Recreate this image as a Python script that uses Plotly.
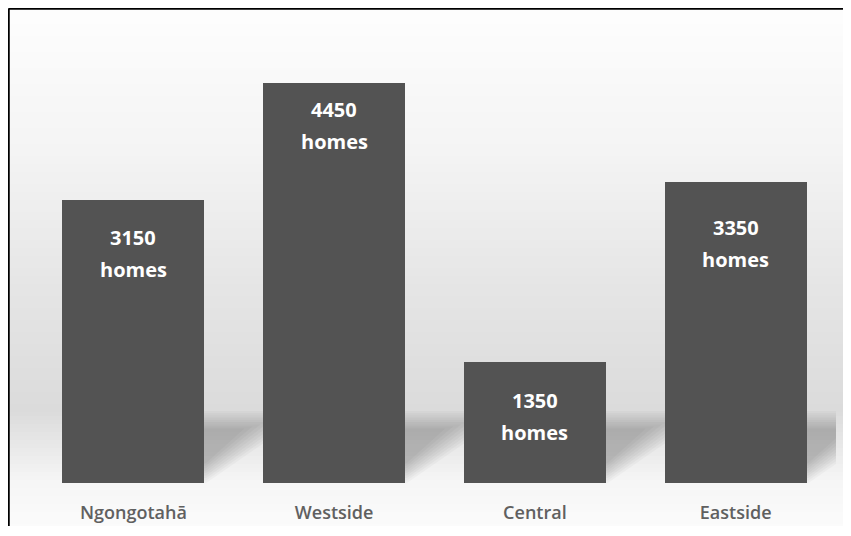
import plotly.graph_objects as go

# ---- data ----
categories = ["Ngongotahā", "Westside", "Central", "Eastside"]
homes = [3150, 4450, 1350, 3350]
unit_word = "homes"

# ---- style ----
OFF = 8                      # page body margin of the browser (screen px offset)
W, H = 851 - 2 * OFF, 518
M_L, M_R, M_T = 25, 7, 0
M_B = H - 475
PLOT_H = H - M_T - M_B
PLOT_W = W - M_L - M_R
PX_PER_UNIT = 0.09
Y_MAX = PLOT_H / PX_PER_UNIT
BAR_W = 0.707
BAR_COLOR = "#535353"
label_offsets = [38, 27, 39, 46]   # px below bar top for the number line
line_gap = 30

fig = go.Figure()
fig.add_trace(go.Bar(
    x=categories, y=homes, width=BAR_W,
    marker=dict(color=BAR_COLOR, line=dict(width=0)),
    hoverinfo="skip",
))

shapes = []
AXIS_SCREEN = H - M_B + OFF   # screen y of the plot bottom


def sy(py):   # screen y -> paper y
    return (AXIS_SCREEN - py) / PLOT_H


def sx(px):   # screen x -> paper x
    return (px - OFF - M_L) / PLOT_W


stops = [(0, (254, 254, 254)), (150, (244, 244, 244)), (300, (228, 228, 228)),
         (410, (219, 219, 219)), (483, (246, 246, 246)), (536, (252, 252, 252))]


def col_at(py):
    for (p0, c0), (p1, c1) in zip(stops, stops[1:]):
        if p0 <= py <= p1:
            t = (py - p0) / (p1 - p0)
            return tuple(round(a + (b - a) * t) for a, b in zip(c0, c1))
    return stops[-1][1]


step = 4
for py in range(0, 540, step):
    c = col_at(py + step / 2)
    shapes.append(dict(type="rect", xref="paper", yref="paper",
                       x0=sx(0), x1=sx(860), y0=sy(py + step), y1=sy(py),
                       fillcolor=f"rgb{c}", line=dict(width=0), layer="below"))

# bar shadows (to the right of each bar, at the floor), layered for softness
px_per_cat = PLOT_W / len(categories)
for i, v in enumerate(homes):
    xr = i + BAR_W / 2
    for k in range(9):
        top_px = 72 - k * 2.2
        d = top_px / 0.68 - k * 5
        top_u = top_px / PX_PER_UNIT
        pts = [(i, top_u), (xr + d / px_per_cat, top_u),
               (xr + 2 / px_per_cat, k * 2.5 / PX_PER_UNIT), (i, 0)]
        path = "M " + " L ".join(f"{x},{y}" for x, y in pts) + " Z"
        shapes.append(dict(type="path", xref="x", yref="y", path=path,
                           fillcolor="rgba(0,0,0,0.026)", line=dict(width=0), layer="below"))

# frame lines (left and top)
bx = sx(OFF + 0.5)
by = sy(OFF + 0.5)
shapes.append(dict(type="line", xref="paper", yref="paper", x0=bx, x1=sx(860), y0=by, y1=by,
                   line=dict(color="black", width=2.5)))
shapes.append(dict(type="line", xref="paper", yref="paper", x0=bx, x1=bx, y0=by, y1=sy(545),
                   line=dict(color="black", width=2.5)))

annotations = []
for i, (c, v) in enumerate(zip(categories, homes)):
    annotations.append(dict(x=c, y=v, xref="x", yref="y", text=f"<b>{v}</b>", showarrow=False,
                            yanchor="middle", yshift=-label_offsets[i],
                            font=dict(family="Open Sans", size=20, color="white")))
    annotations.append(dict(x=c, y=v, xref="x", yref="y", text=f"<b>{unit_word}</b>", showarrow=False,
                            yanchor="middle", yshift=-(label_offsets[i] + line_gap) - 2,
                            font=dict(family="Open Sans", size=20, color="white")))

fig.update_layout(
    width=W, height=H,
    margin=dict(l=M_L, r=M_R, t=M_T, b=M_B, pad=0, autoexpand=False),
    paper_bgcolor="rgb(250,250,250)", plot_bgcolor="rgba(0,0,0,0)",
    showlegend=False, bargap=0,
    shapes=shapes, annotations=annotations,
    xaxis=dict(range=[-0.5, len(categories) - 0.5], showgrid=False, zeroline=False, showline=False,
               automargin=False,
               ticks="outside", ticklen=0, tickcolor="rgba(0,0,0,0)", ticklabelstandoff=13,
               tickfont=dict(family="Open Sans", size=18, color="#606060", weight=600),
               fixedrange=True),
    yaxis=dict(range=[0, Y_MAX], visible=False, fixedrange=True, automargin=False),
)

fig.write_html("out.html")
